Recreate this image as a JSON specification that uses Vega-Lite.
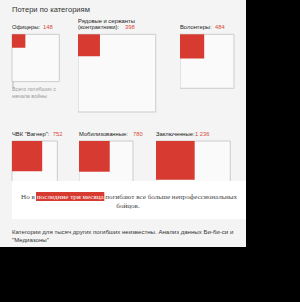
{
  "$schema": "https://vega.github.io/schema/vega-lite/v6.json",
  "background": "#000000",
  "padding": {"left": 0, "top": 0, "right": 54, "bottom": 55},
  "spacing": 0,
  "config": {
    "view": {"stroke": null, "fill": "#f4f4f4"},
    "concat": {"spacing": 0},
    "mark": {"font": "Liberation Sans"},
    "locale": {"number": {"decimal": ",", "thousands": "\u00a0", "grouping": [3], "currency": ["", " ₽"]}}
  },
  "datasets": {
    "cats": [
      {"key": "officers", "name": "Офицеры:", "recent": 148, "total": 1850},
      {"key": "privates", "name": "Рядовые и сержанты\n(контрактники):", "recent": 398, "total": 4990},
      {"key": "volunteers", "name": "Волонтеры:", "recent": 484, "total": 2410},
      {"key": "wagner", "name": "ЧВК \"Вагнер\":", "recent": 752, "total": 1700},
      {"key": "mobilized", "name": "Мобилизованные:", "recent": 780, "total": 2410},
      {"key": "prisoners", "name": "Заключенные:", "recent": 1236, "total": 4560}
    ]
  },
  "vconcat": [
    {
      "width": 246, "height": 14,
      "data": {"values": [{"t": "Потери по категориям"}]},
      "mark": {"type": "text", "align": "left", "baseline": "middle", "fontSize": 7.6, "color": "#333333"},
      "encoding": {"x": {"value": 12}, "y": {"value": 10}, "text": {"field": "t", "type": "nominal"}}
    },
    {
      "spacing": 0,
      "hconcat": [
        {
          "width": 78, "height": 111,
          "data": {"name": "cats"},
          "transform": [{"filter": "datum.key == 'officers'"}],
          "layer": [
            {"mark": {"type": "rect", "fill": "#fafafa", "stroke": "#cccccc", "strokeWidth": 1, "clip": true},
             "encoding": {
               "x": {"field": "total", "type": "quantitative", "scale": {"type": "sqrt", "domain": [0, 10000], "range": [12, 122], "nice": false}, "axis": null},
               "x2": {"datum": 0},
               "y": {"field": "total", "type": "quantitative", "scale": {"type": "sqrt", "domain": [0, 10000], "range": [20.3, 130.3], "nice": false}, "axis": null},
               "y2": {"datum": 0}}},
            {"mark": {"type": "rect", "fill": "#d63a31", "clip": true},
             "encoding": {"x": {"field": "recent", "type": "quantitative"}, "x2": {"datum": 0}, "y": {"field": "recent", "type": "quantitative"}, "y2": {"datum": 0}}},
            {"mark": {"type": "rule", "color": "#b5b5b5", "y2Offset": 6},
             "encoding": {"x": {"value": 13}, "y": {"field": "total", "type": "quantitative"}, "y2": {"field": "total"}}},
            {"mark": {"type": "text", "align": "left", "baseline": "top", "dy": 5.3, "fontSize": 5.4, "color": "#9a9a9a", "lineHeight": 6.6, "lineBreak": "\n"},
             "encoding": {"x": {"value": 12}, "y": {"field": "total", "type": "quantitative"}, "text": {"value": "Всего погибших с\nначала войны"}}},
            {"mark": {"type": "text", "align": "left", "baseline": "middle", "fontSize": 5.8, "color": "#222222", "lineBreak": "\n"},
             "encoding": {"x": {"value": 12}, "y": {"value": 13.3}, "text": {"field": "name", "type": "nominal"}}},
            {"mark": {"type": "text", "align": "left", "baseline": "middle", "fontSize": 5.8, "color": "#d84a40"},
             "encoding": {"x": {"value": 43}, "y": {"value": 13.3}, "text": {"field": "recent", "type": "quantitative", "format": ",d"}}}
          ]
        },
        {
          "width": 102, "height": 111,
          "data": {"name": "cats"},
          "transform": [{"filter": "datum.key == 'privates'"}],
          "layer": [
            {"mark": {"type": "rect", "fill": "#fafafa", "stroke": "#cccccc", "strokeWidth": 1, "clip": true},
             "encoding": {
               "x": {"field": "total", "type": "quantitative", "scale": {"type": "sqrt", "domain": [0, 10000], "range": [0, 110], "nice": false}, "axis": null},
               "x2": {"datum": 0},
               "y": {"field": "total", "type": "quantitative", "scale": {"type": "sqrt", "domain": [0, 10000], "range": [20.3, 130.3], "nice": false}, "axis": null},
               "y2": {"datum": 0}}},
            {"mark": {"type": "rect", "fill": "#d63a31", "clip": true},
             "encoding": {"x": {"field": "recent", "type": "quantitative"}, "x2": {"datum": 0}, "y": {"field": "recent", "type": "quantitative"}, "y2": {"datum": 0}}},
            {"mark": {"type": "text", "align": "left", "baseline": "middle", "fontSize": 5.8, "color": "#222222", "lineHeight": 6.6, "lineBreak": "\n"},
             "encoding": {"x": {"value": 0}, "y": {"value": 6.7}, "text": {"field": "name", "type": "nominal"}}},
            {"mark": {"type": "text", "align": "left", "baseline": "middle", "fontSize": 5.8, "color": "#d84a40"},
             "encoding": {"x": {"value": 47}, "y": {"value": 13.3}, "text": {"field": "recent", "type": "quantitative", "format": ",d"}}}
          ]
        },
        {
          "width": 66, "height": 111,
          "data": {"name": "cats"},
          "transform": [{"filter": "datum.key == 'volunteers'"}],
          "layer": [
            {"mark": {"type": "rect", "fill": "#fafafa", "stroke": "#cccccc", "strokeWidth": 1, "clip": true},
             "encoding": {
               "x": {"field": "total", "type": "quantitative", "scale": {"type": "sqrt", "domain": [0, 10000], "range": [0, 110], "nice": false}, "axis": null},
               "x2": {"datum": 0},
               "y": {"field": "total", "type": "quantitative", "scale": {"type": "sqrt", "domain": [0, 10000], "range": [20.3, 130.3], "nice": false}, "axis": null},
               "y2": {"datum": 0}}},
            {"mark": {"type": "rect", "fill": "#d63a31", "clip": true},
             "encoding": {"x": {"field": "recent", "type": "quantitative"}, "x2": {"datum": 0}, "y": {"field": "recent", "type": "quantitative"}, "y2": {"datum": 0}}},
            {"mark": {"type": "text", "align": "left", "baseline": "middle", "fontSize": 5.8, "color": "#222222"},
             "encoding": {"x": {"value": 0}, "y": {"value": 13.3}, "text": {"field": "name", "type": "nominal"}}},
            {"mark": {"type": "text", "align": "left", "baseline": "middle", "fontSize": 5.8, "color": "#d84a40"},
             "encoding": {"x": {"value": 35}, "y": {"value": 13.3}, "text": {"field": "recent", "type": "quantitative", "format": ",d"}}}
          ]
        }
      ]
    },
    {
      "spacing": 0,
      "hconcat": [
        {
          "width": 79, "height": 56,
          "data": {"name": "cats"},
          "transform": [{"filter": "datum.key == 'wagner'"}],
          "layer": [
            {"mark": {"type": "rect", "fill": "#fafafa", "stroke": "#cccccc", "strokeWidth": 1, "clip": true},
             "encoding": {
               "x": {"field": "total", "type": "quantitative", "scale": {"type": "sqrt", "domain": [0, 10000], "range": [12, 122], "nice": false}, "axis": null},
               "x2": {"datum": 0},
               "y": {"field": "total", "type": "quantitative", "scale": {"type": "sqrt", "domain": [0, 10000], "range": [16, 126], "nice": false}, "axis": null},
               "y2": {"datum": 0}}},
            {"mark": {"type": "rect", "fill": "#d63a31", "clip": true},
             "encoding": {"x": {"field": "recent", "type": "quantitative"}, "x2": {"datum": 0}, "y": {"field": "recent", "type": "quantitative"}, "y2": {"datum": 0}}},
            {"mark": {"type": "text", "align": "left", "baseline": "middle", "fontSize": 5.8, "color": "#222222"},
             "encoding": {"x": {"value": 12}, "y": {"value": 9}, "text": {"field": "name", "type": "nominal"}}},
            {"mark": {"type": "text", "align": "left", "baseline": "middle", "fontSize": 5.8, "color": "#d84a40"},
             "encoding": {"x": {"value": 52.7}, "y": {"value": 9}, "text": {"field": "recent", "type": "quantitative", "format": ",d"}}}
          ]
        },
        {
          "width": 77, "height": 56,
          "data": {"name": "cats"},
          "transform": [{"filter": "datum.key == 'mobilized'"}],
          "layer": [
            {"mark": {"type": "rect", "fill": "#fafafa", "stroke": "#cccccc", "strokeWidth": 1, "clip": true},
             "encoding": {
               "x": {"field": "total", "type": "quantitative", "scale": {"type": "sqrt", "domain": [0, 10000], "range": [0, 110], "nice": false}, "axis": null},
               "x2": {"datum": 0},
               "y": {"field": "total", "type": "quantitative", "scale": {"type": "sqrt", "domain": [0, 10000], "range": [16, 126], "nice": false}, "axis": null},
               "y2": {"datum": 0}}},
            {"mark": {"type": "rect", "fill": "#d63a31", "clip": true},
             "encoding": {"x": {"field": "recent", "type": "quantitative"}, "x2": {"datum": 0}, "y": {"field": "recent", "type": "quantitative"}, "y2": {"datum": 0}}},
            {"mark": {"type": "text", "align": "left", "baseline": "middle", "fontSize": 5.8, "color": "#222222"},
             "encoding": {"x": {"value": 0}, "y": {"value": 9}, "text": {"field": "name", "type": "nominal"}}},
            {"mark": {"type": "text", "align": "left", "baseline": "middle", "fontSize": 5.8, "color": "#d84a40"},
             "encoding": {"x": {"value": 54}, "y": {"value": 9}, "text": {"field": "recent", "type": "quantitative", "format": ",d"}}}
          ]
        },
        {
          "width": 90, "height": 56,
          "data": {"name": "cats"},
          "transform": [{"filter": "datum.key == 'prisoners'"}],
          "layer": [
            {"mark": {"type": "rect", "fill": "#fafafa", "stroke": "#cccccc", "strokeWidth": 1, "clip": true},
             "encoding": {
               "x": {"field": "total", "type": "quantitative", "scale": {"type": "sqrt", "domain": [0, 10000], "range": [0, 110], "nice": false}, "axis": null},
               "x2": {"datum": 0},
               "y": {"field": "total", "type": "quantitative", "scale": {"type": "sqrt", "domain": [0, 10000], "range": [16, 126], "nice": false}, "axis": null},
               "y2": {"datum": 0}}},
            {"mark": {"type": "rect", "fill": "#d63a31", "clip": true},
             "encoding": {"x": {"field": "recent", "type": "quantitative"}, "x2": {"datum": 0}, "y": {"field": "recent", "type": "quantitative"}, "y2": {"datum": 0}}},
            {"mark": {"type": "text", "align": "left", "baseline": "middle", "fontSize": 5.8, "color": "#222222"},
             "encoding": {"x": {"value": 0}, "y": {"value": 9}, "text": {"field": "name", "type": "nominal"}}},
            {"mark": {"type": "text", "align": "left", "baseline": "middle", "fontSize": 5.8, "color": "#d84a40"},
             "encoding": {"x": {"value": 39}, "y": {"value": 9}, "text": {"field": "recent", "type": "quantitative", "format": ",d"}}}
          ]
        }
      ]
    },
    {
      "width": 246, "height": 38,
      "data": {"values": [{"a": "Но в", "b": "последние три месяца", "c": "погибают все больше непрофессиональных", "d": "бойцов."}]},
      "layer": [
        {"mark": {"type": "rect", "color": "#ffffff"}, "encoding": {"x": {"value": 12}, "x2": {"value": 246}, "y": {"value": 0}, "y2": {"value": 38}}},
        {"mark": {"type": "rect", "color": "#d63a31"}, "encoding": {"x": {"value": 36}, "x2": {"value": 104.3}, "y": {"value": 11}, "y2": {"value": 20}}},
        {"mark": {"type": "text", "align": "right", "baseline": "middle", "font": "Liberation Serif", "fontSize": 7.1, "color": "#444444"}, "encoding": {"x": {"value": 34.8}, "y": {"value": 15.5}, "text": {"field": "a", "type": "nominal"}}},
        {"mark": {"type": "text", "align": "center", "baseline": "middle", "font": "Liberation Serif", "fontSize": 7.1, "color": "#ffffff"}, "encoding": {"x": {"value": 70.2}, "y": {"value": 15.5}, "text": {"field": "b", "type": "nominal"}}},
        {"mark": {"type": "text", "align": "left", "baseline": "middle", "font": "Liberation Serif", "fontSize": 7.1, "color": "#444444"}, "encoding": {"x": {"value": 105.3}, "y": {"value": 15.5}, "text": {"field": "c", "type": "nominal"}}},
        {"mark": {"type": "text", "align": "center", "baseline": "middle", "font": "Liberation Serif", "fontSize": 7.1, "color": "#444444"}, "encoding": {"x": {"value": 128}, "y": {"value": 24.5}, "text": {"field": "d", "type": "nominal"}}}
      ]
    },
    {
      "width": 246, "height": 28,
      "data": {"values": [{"t": "Категории для тысяч других погибших неизвестны. Анализ данных Би-би-си и\n\"Медиазоны\""}]},
      "mark": {"type": "text", "align": "left", "baseline": "middle", "fontSize": 6.1, "color": "#333333", "lineHeight": 8.4, "lineBreak": "\n"},
      "encoding": {"x": {"value": 12}, "y": {"value": 12.7}, "text": {"field": "t", "type": "nominal"}}
    }
  ]
}
